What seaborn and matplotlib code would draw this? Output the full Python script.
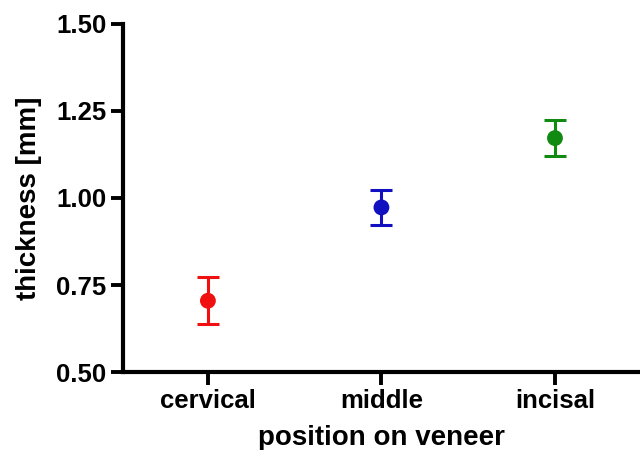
import matplotlib
matplotlib.use("Agg")
import matplotlib.pyplot as plt
import seaborn as sns
import pandas as pd

categories = ["cervical", "middle", "incisal"]
means = [0.705, 0.973, 1.172]
errors = [0.067, 0.050, 0.052]
colors = ["#f01010", "#1010c0", "#108a10"]
yticks = [0.50, 0.75, 1.00, 1.25, 1.50]

sns.set_style("ticks")
plt.rcParams["font.family"] = ["Liberation Sans", "DejaVu Sans"]
plt.rcParams["font.weight"] = "bold"

df = pd.DataFrame({"position": categories, "thickness": means, "err": errors})

fig = plt.figure(figsize=(6.4, 4.5), dpi=100)
ax = fig.add_axes([0.192, 0.173, 0.808, 0.774])

sns.scatterplot(data=df, x="position", y="thickness", hue="position",
                palette=colors, s=130, edgecolor="none", legend=False,
                zorder=3, ax=ax)
for i, row in df.iterrows():
    ax.errorbar(x=[row["position"]], y=[row["thickness"]], yerr=[row["err"]],
                fmt="none", ecolor=colors[i], elinewidth=2.2, capsize=8,
                capthick=2.2, zorder=2)

ax.set_xlim(-0.49, 2.49)
ax.set_ylim(0.5, 1.5)
ax.set_yticks(yticks)
ax.set_yticklabels([f"{v:.2f}" for v in yticks])
ax.set_xlabel("position on veneer", fontsize=20, fontweight="bold",
              labelpad=9, color="black")
ax.set_ylabel("thickness [mm]", fontsize=20, fontweight="bold",
              labelpad=10, color="black")
ax.tick_params(axis="both", labelsize=18.5, length=9, width=2.8, color="black",
               labelcolor="black", pad=3)
for lab in ax.get_xticklabels() + ax.get_yticklabels():
    lab.set_fontweight("bold")
sns.despine(ax=ax)
for sp in ["left", "bottom"]:
    ax.spines[sp].set_linewidth(3)
    ax.spines[sp].set_color("black")

fig.savefig("out.png", dpi=100)
